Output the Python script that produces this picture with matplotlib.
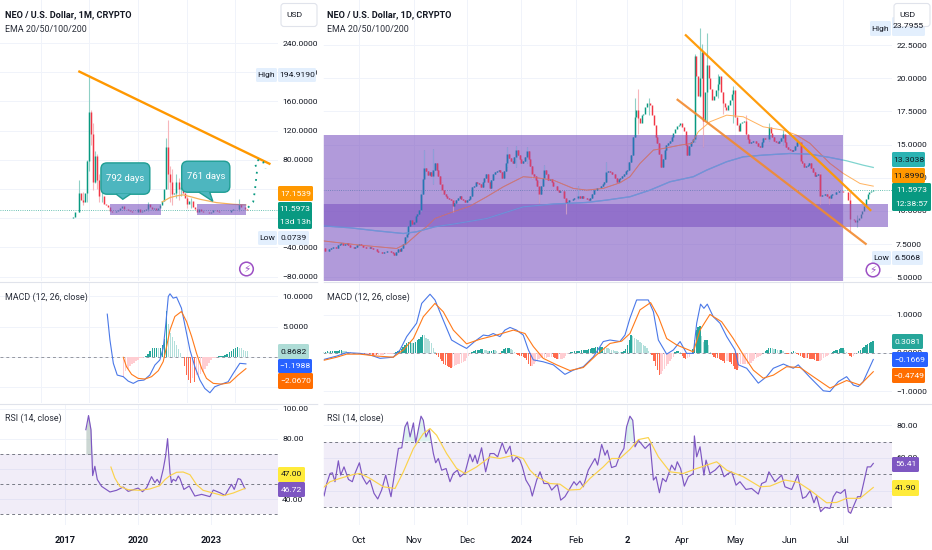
import numpy as np
import matplotlib
matplotlib.use("Agg")
import matplotlib.pyplot as plt
from matplotlib.patches import FancyBboxPatch, Rectangle, Polygon, Circle
from matplotlib.ticker import FuncFormatter

plt.rcParams['font.family'] = ['Roboto', 'DejaVu Sans']
plt.rcParams['axes.unicode_minus'] = False

UP, DOWN = '#089981', '#f23645'
UPW, DOWNW = '#8fd0c6', '#f7b6bb'
GRID = '#f0f3fa'
INK = '#131722'
PURPLE = '#7e57c2'
TICK = 6.1

# ---- monthly pane (x = month number from Sep 2016)
m_close = [0.2,0.15,0.15,0.15,0.2,0.2,0.2,0.4,1.5,8,
           9,34,25,22,34,78,146,115,50,85,
           52,30,30,20,18,16,10,8,9,10,
           11,14,17,13,12,11,10,9,8,9,
           13,8,10,11,12,19,15,13,14,11,
           14,18,23,40,98,60,50,33,34,50,
           40,43,35,28,20,23,23,15,12,9,
           12,10,8,8,8,7.5,8.5,11,11,10,
           9,9,9,8,8,8,11,13,13,12,
           19,15,16,12,11.6]
m_wick_i = [11,13,15,16,17,18,19,20,21,22,45,54,55,56,57,59,60,61,64,66,90]
m_high = [53,36,80,194.9,148,130,92,88,60,45,22,110,135,72,68,60,55,52,30,28,27]
m_low = [9,18,22,65,100,38,48,40,22,22,10,40,40,22,18,28,25,30,14,14,10]
m_box_y = [4.1, 19.6]
m_box_x = [[2018.84, 2020.97], [2022.42, 2024.44]]
m_ema_x = [2021.0,2021.32,2021.59,2021.86,2022.2,2022.55,2023.23,2023.92,2024.44]
m_ema = [22.4,28.3,30.6,32,29.2,26,21.4,19.1,18.2]
m_trend_x = [2017.55, 2025.45]
m_trend_y = [201.6, 74]
m_proj_x = [2024.53,2024.74,2024.81,2024.9,2024.81,2025.01,2025.15,2025.25]
m_proj_y = [14.6,22.4,38,65.8,75.8,81.3,77.2,68]

m_macd_x = [2018.74,2018.85,2018.99,2019.15,2019.40,2019.60,2019.81,2020.01,2020.25,2020.49,2020.70,2020.90,
            2021.04,2021.15,2021.25,2021.32,2021.45,2021.59,2021.79,2022.0,2022.14,2022.34,2022.55,2022.75,
            2022.96,2023.16,2023.44,2023.71,2023.92,2024.19,2024.44]
m_macd = [7.06,2.78,-1.11,-3.06,-3.33,-4.06,-4.44,-4.0,-3.89,-3.06,-1.39,-0.56,
          1.39,5.56,10,10.44,9.72,9.89,8.06,3.89,1.11,-1.67,-3.89,-5.28,
          -6.0,-5.0,-4.56,-4.17,-2.78,-1.11,-1.2]
m_sig_x = [2019.40,2019.53,2019.74,2020.01,2020.29,2020.56,2020.84,2021.04,2021.18,2021.32,2021.52,2021.79,
           2022.0,2022.21,2022.41,2022.62,2022.82,2023.10,2023.44,2023.78,2024.12,2024.44]
m_sig = [-0.11,-1.67,-2.94,-3.61,-3.72,-3.33,-2.33,-0.83,1.67,4.44,6.67,7.5,
         5.83,3.33,0.56,-1.94,-3.61,-4.44,-4.56,-4.33,-3.06,-2.0]
m_hist = [-3.3,-2.4,-2,-1.6,-1.3,-1,-0.8,-0.5,-0.3,-0.2,-0.1,0.1,0.5,1.0,1.5,1.5,1.5,1.4,1.5,2.0,
          3.0,7.6,5.5,4,3.3,2.6,1.9,1.2,0.6,-0.1,-1.5,-3.0,-3.8,-4.3,-3.5,-4.2,-3.0,-3,-2.8,-2.5,
          -2,-1.5,-1,-0.5,-0.3,-0.2,0,0.1,0.1,0.1,0.2,0.4,0.7,0.9,1.2,1.4,1.6,1.5,1.4,1.1,1,0.87]
m_hist_start = 33

m_rsi_x = [2017.86,2017.97,2018.07,2018.14,2018.23,2018.33,2018.51,2018.85,2019.12,2019.40,2019.60,2019.81,
           2020.01,2020.19,2020.36,2020.56,2020.70,2020.79,2020.90,2021.04,2021.14,2021.22,2021.32,2021.38,
           2021.45,2021.56,2021.66,2021.73,2021.89,2022.11,2022.34,2022.62,2022.96,2023.10,2023.37,2023.58,
           2023.85,2023.96,2024.12,2024.22,2024.40]
m_rsi = [86.2,95.6,86.2,55.6,61.8,53,48.4,44.7,45.8,48,45.1,46.2,
         47.3,44.9,47.6,54.9,50.9,53.1,50.4,59.8,68.7,80.2,57.6,50.9,
         53.1,52,55.3,53.6,46.4,48.7,42,43.1,41.6,46,44.2,42.4,
         49.8,46.4,53.6,53.1,46.9]
m_rma_x = [2018.89,2019.05,2019.26,2019.6,2020.08,2020.49,2020.9,2021.11,2021.32,2021.59,2021.86,2022.14,
           2022.41,2022.68,2023.1,2023.51,2023.92,2024.4]
m_rma = [61.3,54,48.4,46.2,45.8,46.7,48.9,52.9,55.6,57.8,58,56.2,49.6,45.8,44,42.2,44,47.1]

# ---- daily pane (x = days from 1 Oct 2023)
d_close = [7.2,7.0,7.0,7.1,7.2,7.3,7.3,7.2,7.4,7.5,
           7.6,7.4,7.5,7.6,7.4,7.3,7.3,7.2,7.3,7.4,
           7.5,7.4,7.3,7.3,7.2,7.2,7.3,7.2,7.1,7.1,
           7.0,6.9,6.9,6.8,6.9,6.9,7.0,7.0,6.9,6.8,
           6.7,6.9,7.1,7.0,7.2,7.5,8.0,8.3,8.9,9.3,
           9.0,9.2,9.6,9.8,10.1,11.3,12.4,13.2,13.0,12.7,
           12.9,12.6,13.1,13.6,13.1,12.6,12.0,11.6,11.3,11.1,
           11.0,10.9,10.8,10.4,10.6,10.8,11.0,11.1,10.9,10.8,
           10.7,10.8,10.9,11.1,11.8,11.9,12.2,12.1,12.0,11.8,
           12.2,12.5,12.8,12.2,11.7,12.3,12.8,12.9,13.0,13.1,
           12.9,12.5,13.0,13.6,14.3,14.0,13.8,13.6,14.1,14.6,
           14.2,13.9,13.6,13.8,14.1,14.5,13.9,13.4,12.8,12.6,
           12.3,11.9,11.3,11.9,12.5,13.1,12.8,12.3,12.4,12.2,
           11.9,11.9,11.6,11.4,11.5,11.5,11.0,10.6,10.7,10.8,
           10.8,10.9,11.0,11.0,11.1,11.0,11.1,11.0,11.0,10.9,
           10.8,11.0,11.3,11.6,11.6,11.7,11.7,11.9,12.0,12.2,
           12.9,13.0,12.9,12.8,12.8,12.5,12.2,12.4,12.5,12.6,
           12.8,13.0,13.1,13.7,14.2,15.6,17.1,17.6,17.0,16.6,
           17.2,17.3,17.8,18.1,18.1,18.0,17.2,16.5,15.6,15.1,
           14.3,13.3,13.9,14.6,15.0,15.1,15.3,15.6,15.9,16.2,
           16.4,16.5,16.6,16.3,16.0,15.0,14.2,14.9,15.2,15.4,
           21.7,20.2,18.7,20.0,22.0,16.8,19.0,21.0,20.0,19.2,
           18.4,18.7,19.1,19.6,20.2,19.0,18.1,17.8,17.6,18.0,
           18.4,18.8,19.1,17.1,16.5,16.0,16.6,16.7,16.8,15.8,
           15.4,15.1,15.2,15.3,15.3,15.1,14.9,14.8,15.2,15.5,
           15.4,15.4,16.3,15.9,15.6,15.3,15.2,15.1,15.3,15.5,
           15.8,15.2,14.8,14.7,14.6,14.5,14.6,14.9,15.2,15.2,
           13.8,13.6,13.3,13.4,13.5,13.6,13.2,12.9,12.6,12.7,
           12.8,11.1,11.2,11.2,11.3,11.1,11.0,11.2,11.3,11.3,
           11.4,11.4,11.5,11.5,11.4,11.45,11.4,10.8,9.4,9.4,
           9.3,9.2,9.3,9.5,9.8,10.0,10.4,10.9,11.3,11.4,11.5,11.6]
d_wick_day = [27,35,37,42,47,53,84,89,95,98,102,105,117,124,140,156,158,164,190,193,194,195,197,203,206,212,219,232,240,250,261,266,278,282]
d_high = [8.9,11.5,14.6,14.7,12.2,11.0,14.8,14.9,14.8,13.1,12.2,13.5,11.0,11.9,13.7,18.5,19.2,18.5,21.8,23.8,22.6,20.5,23.4,20.3,19.0,19.4,17.2,16.6,16.1,15.5,12.9,11.6,11.4,9.7]
d_low = [7.8,10.0,12.4,12.0,11.3,9.9,13.3,13.3,13.6,12.4,10.6,12.3,9.8,10.9,12.6,15.6,15.8,17.2,15.2,18.6,20.0,14.8,16.7,18.5,17.3,16.6,15.4,15.3,15.0,13.5,10.5,10.5,8.4,8.8]
d_box_big = [8.79, 15.72]
d_box_zone = [8.79, 10.52]
d_big_end, d_zone_end = 274, 299.5

d_ema_x = [-20.8,0.6,21.3,27,34.5,38.3,43,53.4,62.8,72.3,81.7,93,100.6,110,121.3,128.9,138.3,147.7,153.4,
           159.1,166.7,172.3,181.8,188.4,192.1,198.7,208.2,217.6,228.9,240.2,247.8,255.4,266.7,274.2,283.7,291.2]
d_ema = [7.75,7.42,7.17,7.55,8.43,8.81,9.43,9.94,10.36,11.07,11.82,12.58,12.5,12.32,11.7,11.57,11.7,12.12,12.58,
         13.58,14.59,14.71,14.96,15.09,15.97,16.72,17.22,17.1,16.34,16.09,15.72,15.09,13.58,12.83,12.07,11.87]
d_ema2_x = [-20.8,-5.1,10,25.1,32.6,43,53.4,72.3,93,110,128.9,140.2,153.4,164.8,176.1,189.3,196.9,208.2,217.6,
            228.9,244,255.4,266.7,276.1,285.5,291.2]
d_ema2 = [8.88,8.73,8.5,8.3,8.43,8.81,9.01,9.43,10.31,10.52,10.64,10.82,11.07,11.57,12.2,12.58,13.08,13.71,14.08,
          14.21,14.33,14.28,14.03,13.78,13.45,13.28]
d_upper_x, d_upper_y = [184.6, 290.0], [23.3, 10.01]
d_lower_x, d_lower_y = [179.9, 287.4], [18.43, 7.47]

d_macd_x = [-20.8,-12.6,-7,.6,6.2,11.9,19.4,23.2,27,32.6,35.5,40.2,43,47.7,52.4,57.2,60.9,65.7,70.4,73.2,76,79.8,
            82.6,85.5,89.2,93,95.9,98.7,104.3,110,116.6,121.3,127,132.7,138.3,142.1,147.7,150.6,153.4,
            157.2,163.8,166.7,169.5,174.2,178,181.8,185.5,189.3,191.2,193.4,195.3,197.2,200.6,204.4,208.2,212.9,
            214.8,219.5,226.1,230.8,234.6,240.3,245.9,248.7,255.4,262.9,266.7,271.4,276.1,279.9,282.7,285.5,291.2]
d_macd = [-.18,-.08,.01,-.01,-.05,-.14,-.11,.08,.43,.78,1.3,1.54,1.39,.86,.34,.21,.12,.31,.47,.45,.51,.43,
          .6,.67,.6,.47,.08,-.18,-.23,-.31,-.56,-.45,-.36,-.1,.3,.34,.3,.47,.91,
          1.39,1.39,1.08,.34,-.03,.08,.3,-.01,-.01,.78,1.28,1.17,1.28,.95,.78,.43,.08,
          -.31,-.4,-.79,-.62,-.4,-.29,-.4,-.31,-.64,-.99,-1.01,-.75,-.62,-.84,-.88,-.75,-.17]
d_sig_x = [-20.8,-12.6,-7,.6,10,19.4,25.1,30.8,36.4,43,47.7,53.4,60.9,68.5,77.9,87.4,94,98.7,104.3,111.9,119.4,127,
           134.5,142.1,148.7,153.4,159.1,165.1,169.5,174.2,179.9,189.3,193.1,198.7,205.3,211.9,217.6,223.3,228.9,
           234.6,242.1,249.7,257.2,266.7,276.1,283.7,291.2]
d_sig = [-.2,-.11,-.03,-.03,-.08,-.11,.08,.38,.95,1.3,1.08,.6,.24,.36,.47,.6,.51,.17,-.14,-.31,-.46,-.38,
         -.05,.25,.31,.51,1.13,1.32,.95,.38,.21,.03,.6,1.01,.82,.38,-.05,-.45,-.66,
         -.58,-.36,-.38,-.62,-.92,-.72,-.84,-.49]
d_hist = [.03,.03,.04,.03,.04,.04,.05,.05,.06,.07,
          .07,.06,.05,.04,.03,.02,.01,.01,.01,.0,
          -.01,-.01,-.01,-.02,-.02,-.02,-.03,-.03,-.04,-.04,
          -.05,-.05,-.05,-.04,-.04,-.03,-.03,-.03,-.02,-.02,
          .0,.02,.05,.08,.1,.15,.2,.26,.28,.28,
          .27,.27,.3,.33,.36,.42,.47,.46,.4,.36,
          .32,.25,.12,.02,-.05,-.1,-.17,-.22,-.28,-.32,
          -.34,-.37,-.38,-.36,-.34,-.31,-.3,-.28,-.26,-.24,
          -.2,-.14,-.08,-.02,.03,.05,.07,.08,.09,.1,
          .1,.09,.07,.05,.05,.06,.08,.07,.04,.0,
          -.02,.06,.1,.12,.12,.12,.11,.08,.02,-.03,
          -.05,-.07,-.08,-.1,-.13,-.18,-.28,-.35,-.34,-.28,
          -.24,-.2,-.16,-.13,-.12,-.12,-.12,-.11,-.1,-.1,
          -.11,-.13,-.15,-.15,-.15,-.15,-.13,-.08,-.03,.01,
          .03,.03,.04,.05,.05,.06,.07,.07,.08,.09,
          .1,.11,.12,.14,.15,.16,.17,.17,.17,.15,
          .14,.12,.1,.09,.08,.06,.04,.03,.02,.03,
          .05,.1,.2,.35,.48,.44,.4,.36,.34,.3,
          .25,.22,.18,.12,.06,.01,-.05,-.2,-.33,-.45,
          -.58,-.55,-.48,-.42,-.35,-.3,-.22,-.16,-.1,.02,
          .04,.05,.02,-.08,-.12,-.15,-.13,-.1,-.03,.1,
          .35,.6,.68,.7,.45,.3,.33,.35,.2,.02,
          -.06,-.1,-.12,-.14,-.15,-.18,-.22,-.25,-.22,-.2,
          -.24,-.3,-.35,-.42,-.45,-.38,-.3,-.3,-.3,-.3,
          -.28,-.26,-.25,-.22,-.17,-.14,-.1,-.07,-.05,.0,
          .05,.08,.12,.13,.12,.1,.1,.09,.08,.08,
          .04,.0,-.02,-.03,-.02,.02,.05,.03,-.02,-.05,
          -.08,-.1,-.12,-.12,-.13,-.15,-.16,-.17,-.19,-.2,
          -.22,-.22,-.18,-.14,-.1,-.07,-.04,.0,.03,.05,
          .07,.08,.1,.12,.12,.08,.02,-.03,-.08,-.1,
          -.07,-.03,.0,.05,.08,.12,.17,.2,.24,.27,.29,.31]

d_rsi_x = [-20.8,-19.8,-18.3,-16.4,-15.1,-13.6,-11.7,-10.4,-8.5,-6,-3.8,-2.3,.2,1.9,4.3,6.2,8.5,10.6,12.8,15.1,18.1,
           20.4,22.3,24.2,26,27.4,28.9,30.8,32.1,35.1,36.4,37.9,39.8,42.1,43.4,44.9,46.8,49.3,51.5,53.4,55.7,57.2,
           60,62.8,64.3,65.7,67,69.4,71.7,74.2,76.4,78.5,81.1,83.2,85.5,87,89.2,91.1,92.5,94.5,96.8,98.1,100.6,102.5,
           104.7,107.2,109.1,112.3,114.2,116.6,119.4,121.7,123.2,125.1,127,129.8,133.6,135.1,137.4,139.3,140.6,143,
           145.5,147.7,150,151.5,153.4,155,156.3,158.2,162,164.8,166.7,168.2,170.1,171.9,173.8,177,178.9,180.2,182.1,
           184.2,186.5,189.3,189.9,191.2,193.1,195.3,196.5,198.7,201.6,204.4,206.7,209.1,211,213.5,215.7,219.1,222.3,
           226.1,228,230.4,232.1,235.5,239.3,241.2,245,248.4,251.2,253.1,255.4,257.6,259.1,261.4,263.8,266.7,268.6,
           270.4,272.7,275.2,277.1,278.4,279.9,282.3,284,287.8,289.7,291.2]
d_rsi = [40.5,36.9,44.5,50.6,51,45.6,58.3,49.6,54.6,47,45.6,50.6,57.1,48.6,44.1,46.6,38.5,35.1,40.5,49.6,36.5,
         52.6,65.8,66.2,78.9,81.9,72.8,81.3,69.2,85.4,82.9,72.8,77.3,62.7,57.1,59.7,52.6,53.6,45.6,50.6,52.6,48.6,
         51,62.3,57.7,61.7,56.7,66.2,51.6,62.7,62.7,60.7,69.2,62.7,67.2,57.7,60.7,58.7,54.6,46.6,42.5,36.9,46.6,51.6,
         44.5,44.5,40.5,44.1,34.4,36.5,41.5,45.6,43.5,46,42.5,52.6,59.7,55.7,68.2,61.7,64.7,54.2,
         55.1,61.7,65.8,78.9,85.4,82.9,66.8,70.8,65.8,68.8,46.6,48.6,38.9,47.6,45.6,55.7,52.6,57.7,53.6,
         42.9,48.6,50.6,73.4,60.7,66.8,49.6,58.7,50.6,52.6,55.7,48.6,50.6,51.6,43.5,45.6,40.9,41.5,
         38.1,44.5,45.6,51.6,45.6,49.6,42.5,40.9,49.6,35.5,36.5,40.1,32.8,36.9,27.4,30,29.4,36.5,
         39.5,38.5,40.9,27.4,26.4,30.4,36.5,36.5,54.6,54.6,56.7]
d_rma_x = [-20.8,-16.4,-10.8,-3.2,.6,6.2,13.8,20.4,25.1,30.8,36.4,40.2,43.96,49.6,55.3,60,66.6,74.2,79.8,87.4,93,
           96.8,100.6,108.1,113.8,118.5,125.1,130.8,138.3,143,147.7,153.4,158.2,163.8,169.5,176.1,183.6,191.2,202.5,
           208.2,217.6,227.1,232.7,241.2,248.7,255.4,264.8,270.4,276.1,283.7,291.2]
d_rma = [41.5,45.6,47.6,50,50.6,47.6,42.5,41.5,51.6,65.8,74.8,77.9,73.8,62.7,53.6,50.6,54.6,60.7,59.7,61.7,59.7,
         52.6,48.6,44.5,44.1,40.5,40.9,47.6,54.6,59.7,59.7,65.2,71.2,72.4,60.7,51.6,50.6,53.6,57.7,
         52.6,48.6,42.5,42.9,46.6,45.2,40.5,32.8,33,35.5,35.5,42.1]

fig = plt.figure(figsize=(9.32, 5.5), dpi=100, facecolor='white')


def pane(x0, x1, y0, y1, xlim, ylim, ticks, fmt):
    ax = fig.add_axes([x0/932, 1-y1/550, (x1-x0)/932, (y1-y0)/550])
    ax.set_xlim(*xlim)
    ax.set_ylim(*ylim)
    for s in ax.spines.values():
        s.set_visible(False)
    ax.yaxis.tick_right()
    ax.set_yticks(ticks)
    ax.yaxis.set_major_formatter(FuncFormatter(lambda v, p: (fmt % v).replace('-', '\u2212')))
    ax.tick_params(axis='y', length=0, pad=3, labelsize=TICK, labelcolor=INK)
    ax.tick_params(axis='x', length=0, labelbottom=False)
    ax.grid(True, color=GRID, lw=0.7)
    ax.set_axisbelow(True)
    return ax


def candles(ax, x, close, wick_x, high, low, up_c=UP, down_c=DOWN, up_w=UPW, down_w=DOWNW, z=2, clip=None):
    close = np.array(close)
    opn = np.r_[close[0], close[:-1]]
    up = close >= opn
    xw = np.array(wick_x)
    idx = np.searchsorted(x, xw)
    w = ax.vlines(xw, low, high, colors=[up_w if up[i] else down_w for i in idx], lw=0.8, zorder=z)
    b = ax.vlines(x, np.minimum(close, opn), np.maximum(close, opn),
                  colors=[up_c if u else down_c for u in up], lw=1.05, zorder=z+0.1)
    if clip is not None:
        w.set_clip_path(clip)
        b.set_clip_path(clip)


def bars(ax, x, h, width):
    h = np.array(h)
    prev = np.r_[h[0], h[:-1]]
    col = []
    for v, p in zip(h, prev):
        if v >= 0:
            col.append('#26a69a' if v >= p else '#b2dfdb')
        else:
            col.append('#ffcdd2' if v >= p else '#ff6a4d')
    ax.bar(x, h, width=width, color=col, zorder=2)


def rsi_bands(ax):
    ax.axhspan(30, 70, color=PURPLE, alpha=0.1, lw=0, zorder=1)
    for v in (30, 50, 70):
        ax.axhline(v, color='#787b86', lw=0.7, ls=(0, (3, 3)), zorder=1.5)


# left column
LX = (2014.33, 2025.76)
m_i = np.arange(len(m_close))
m_x = 2016.67 + m_i/12
ax = pane(0, 278, 0, 281, LX, (-86, 299), [-80, -40, 0, 40, 80, 120, 160, 200, 240], '%.4f')
candles(ax, m_x, m_close, 2016.67 + np.array(m_wick_i)/12, m_high, m_low)
ax.plot(m_ema_x, m_ema, color='#f5b25c', lw=0.9, zorder=4)
ax.axhline(11.6, color=UP, lw=0.6, ls=':', alpha=0.8, zorder=1.5)
for bx in m_box_x:
    ax.add_patch(Rectangle((bx[0], m_box_y[0]), bx[1]-bx[0], m_box_y[1]-m_box_y[0],
                           fc=PURPLE, alpha=0.6, lw=0, zorder=5))
ax.plot(m_trend_x, m_trend_y, color='#ff9800', lw=1.7, zorder=6, solid_capstyle='butt')
ax.plot(m_proj_x, m_proj_y, color=UP, lw=1.3, ls=(0, (1, 3)), zorder=6)
for box, tail, label in (((2018.48, 32.9, 2.01, 42.9), [(2019.1, 33.2), (2019.38, 26), (2019.7, 33.2)], '792 days'),
                         ((2021.8, 35.6, 1.98, 42.5), [(2022.5, 35.9), (2023.08, 23.3), (2022.95, 35.9)], '761 days')):
    ax.add_patch(FancyBboxPatch(box[:2], box[2], box[3], boxstyle='round,pad=0,rounding_size=0.25',
                                mutation_aspect=33.4, fc='#4db6bf', ec='#1f9e94', lw=1, zorder=7))
    ax.add_patch(Polygon(tail, closed=False, fc='#4db6bf', ec='#1f9e94', lw=1, zorder=7))
    ax.text(box[0]+box[2]/2, box[1]+box[3]/2, label, color='white', fontsize=6.8, ha='center', va='center', zorder=8)

ax = pane(0, 278, 282, 403, LX, (-7.7, 12.4), [-5, 0, 5, 10], '%.4f')
bars(ax, m_x[m_hist_start:], m_hist, 0.055)
ax.axhline(0, color='#9598a1', lw=0.7, ls=(0, (3, 3)), zorder=1.5)
ax.plot(m_macd_x, m_macd, color='#4a78e8', lw=0.8, zorder=3)
ax.plot(m_sig_x, m_sig, color='#ff7a1a', lw=0.8, zorder=4)

ax = pane(0, 278, 404, 525, LX, (22.7, 103.3), [40, 60, 80, 100], '%.2f')
ax.set_xticks([2017, 2020, 2023])
rsi_bands(ax)
ax.fill_between(m_rsi_x[:4], 70, m_rsi[:4], color='#8fa89f', alpha=0.45, lw=0, zorder=1.6)
ax.plot(m_rsi_x, m_rsi, color=PURPLE, lw=0.85, zorder=3)
ax.plot(m_rma_x, m_rma, color='#fbd24b', lw=0.85, zorder=4)
ax.tick_params(axis='x', labelbottom=True, pad=8, labelsize=6.6, labelcolor=INK)
for t in ax.get_xticklabels():
    t.set_fontweight('bold')

# right column
RX = (-20.4, 301.8)
d_x = np.arange(len(d_close)) - 20
month_ticks = [0, 31, 61, 92, 123, 152, 183, 213, 244, 274]
month_labels = ['Oct', 'Nov', 'Dec', '2024', 'Feb', '2', 'Apr', 'May', 'Jun', 'Jul']
ax = pane(323, 892, 0, 281, RX, (4.72, 25.9), [5, 7.5, 10, 12.5, 15, 17.5, 20, 22.5], '%.4f')
ax.set_xticks(month_ticks)
candles(ax, d_x, d_close, d_wick_day, d_high, d_low)
ax.plot(d_ema_x, d_ema, color='#ffb25e', lw=0.7, zorder=4)
ax.plot(d_ema2_x, d_ema2, color='#7fd4cf', lw=0.9, zorder=4)
ax.axhline(11.6, color=UP, lw=0.6, ls=':', alpha=0.8, zorder=1.5)
big = Rectangle((RX[0], 4.72), d_big_end-RX[0], d_box_big[1]-4.72, fc=PURPLE, alpha=0.6, lw=0, zorder=5)
ax.add_patch(big)
ax.add_patch(Rectangle((RX[0], d_box_zone[0]), d_zone_end-RX[0], d_box_zone[1]-d_box_zone[0],
                       fc=PURPLE, alpha=0.6, lw=0, zorder=5))
# what shows through the box keeps its tinted colours
candles(ax, d_x, d_close, d_wick_day, d_high, d_low, up_c='#2477b3', down_c='#d43f6a',
        up_w='#8f9fd8', down_w='#c79ac8', z=5.2, clip=big)
l1, = ax.plot(d_ema_x, d_ema, color='#d9756b', lw=0.6, alpha=0.85, zorder=5.4)
l2, = ax.plot(d_ema2_x, d_ema2, color='#6e96dc', lw=0.9, alpha=0.85, zorder=5.4)
l1.set_clip_path(big)
l2.set_clip_path(big)
ax.plot(d_upper_x, d_upper_y, color='#ff9800', lw=1.6, zorder=6, alpha=0.95, solid_capstyle='butt')
ax.plot(d_lower_x, d_lower_y, color='#f28a2e', lw=1.6, zorder=6, alpha=0.9, solid_capstyle='butt')

ax = pane(323, 892, 282, 403, RX, (-1.31, 1.86), [-1, 0, 1], '%.4f')
ax.set_xticks(month_ticks)
bars(ax, d_x, d_hist, 0.78)
ax.axhline(0, color='#9598a1', lw=0.7, ls=(0, (3, 3)), zorder=1.5)
ax.plot(d_macd_x, d_macd, color='#4a78e8', lw=0.8, zorder=3)
ax.plot(d_sig_x, d_sig, color='#ff7a1a', lw=0.8, zorder=4)

ax = pane(323, 892, 404, 525, RX, (19.3, 92.8), [40, 60, 80], '%.2f')
ax.set_xticks(month_ticks)
ax.set_xticklabels(month_labels)
rsi_bands(ax)
rx, ry = np.array(d_rsi_x), np.array(d_rsi)
ax.fill_between(rx, 70, ry, where=ry >= 70, interpolate=True, color='#26a69a', alpha=0.15, lw=0, zorder=1.6)
ax.fill_between(rx, 30, ry, where=ry <= 30, interpolate=True, color='#ef5350', alpha=0.15, lw=0, zorder=1.6)
ax.plot(rx, ry, color=PURPLE, lw=0.85, zorder=3)
ax.plot(d_rma_x, d_rma, color='#fbd24b', lw=0.85, zorder=4)
ax.tick_params(axis='x', labelbottom=True, pad=8, labelsize=6.8, labelcolor=INK)
for t, lab in zip(ax.get_xticklabels(), month_labels):
    if lab in ('2024', '2'):
        t.set_fontweight('bold')

# overlay in pixel coordinates for the chart furniture
ov = fig.add_axes([0, 0, 1, 1], zorder=20)
ov.set_xlim(0, 932)
ov.set_ylim(550, 0)
ov.axis('off')
ov.patch.set_alpha(0)

for y in (281.5, 403.5):
    ov.plot([0, 932], [y, y], color='#e0e3eb', lw=0.8)
ov.plot([320.5, 320.5], [0, 550], color='#ffffff', lw=4)


def tag(x0, x1, y0, y1, bg, fg, lines):
    ov.add_patch(FancyBboxPatch((x0, y0), x1-x0, y1-y0, boxstyle='round,pad=0,rounding_size=1.5', fc=bg, ec='none'))
    n = len(lines)
    for k, s in enumerate(lines):
        ov.text((x0+x1)/2, y0+(y1-y0)*(k+.5)/n, s, color=fg, fontsize=TICK, ha='center', va='center')


LT, RT = 278, 892
# left price tags
tag(256, 277, 68, 82, '#e3effd', INK, ['High'])
tag(278, 316, 68, 82, '#e3effd', INK, ['194.9190'])
tag(258, 277, 231, 245, '#e3effd', INK, ['Low'])
tag(278, 309, 231, 245, '#e3effd', INK, ['0.0739'])
tag(278, 313, 186, 201, '#ff9800', 'white', ['17.1539'])
tag(278, 312, 202, 229, '#089981', 'white', ['11.5973', '13d 13h'])
tag(278, 309, 344, 359, '#aedcd6', INK, ['0.8682'])
tag(278, 312, 359, 373, '#2962ff', 'white', ['\u22121.1988'])
tag(278, 313, 373, 389, '#ff6d00', 'white', ['\u22122.0670'])
tag(278, 305, 467, 482, '#ffeb3b', INK, ['47.00'])
tag(278, 305, 482, 497, PURPLE, 'white', ['46.72'])
# right price tags
tag(870, 891, 21, 36, '#e3effd', INK, ['High'])
tag(892, 925, 17, 36, '#e3effd', INK, ['23.7955'])
tag(872, 891, 251, 265, '#e3effd', INK, ['Low'])
tag(892, 923, 251, 265, '#e3effd', INK, ['6.5068'])
tag(892, 925, 152, 167, '#2bb3b3', INK, ['13.3038'])
tag(892, 925, 168, 183, '#ff9800', INK, ['11.8990'])
tag(892, 931, 183, 211, '#089981', 'white', ['11.5973', '12:38:57'])
tag(892, 923, 334, 349, '#26a69a', 'white', ['0.3081'])
tag(892, 928, 352, 367, '#2962ff', 'white', ['\u22120.1669'])
tag(892, 925, 368, 383, '#ff6d00', 'white', ['\u22120.4749'])
tag(892, 919, 457, 472, PURPLE, 'white', ['56.41'])
tag(892, 919, 480, 496, '#ffeb3b', INK, ['41.90'])

for x0, x1 in ((LT+3, LT+39), (RT+2, RT+38)):
    ov.add_patch(FancyBboxPatch((x0, 3.5), x1-x0, 23, boxstyle='round,pad=0,rounding_size=3', fc='white', ec='#e0e3eb', lw=0.8))
    ov.text((x0+x1)/2-5, 15, 'USD', color=INK, fontsize=TICK, ha='center', va='center')

for x, tf in ((5, '1M'), (327, '1D')):
    ov.text(x, 15, 'NEO / U.S. Dollar, %s, CRYPTO' % tf, color=INK, fontsize=6.6, fontweight='bold', va='center')
    ov.text(x, 30, 'EMA 20/50/100/200', color='#2a2e39', fontsize=6.4, va='center')
    ov.text(x, 297, 'MACD (12, 26, close)', color='#2a2e39', fontsize=6.4, va='center')
    ov.text(x, 418.5, 'RSI (14, close)', color='#2a2e39', fontsize=6.4, va='center')

for cx, cy in ((246.5, 269), (873, 270)):
    ov.add_patch(Circle((cx, cy), 6.8, fc='white', ec='#9c4fc4', lw=1.1))
    ov.text(cx, cy, '\u26a1', color='#9c4fc4', fontsize=7.5, ha='center', va='center', family=['DejaVu Sans'])

fig.savefig('out.png', dpi=100)
